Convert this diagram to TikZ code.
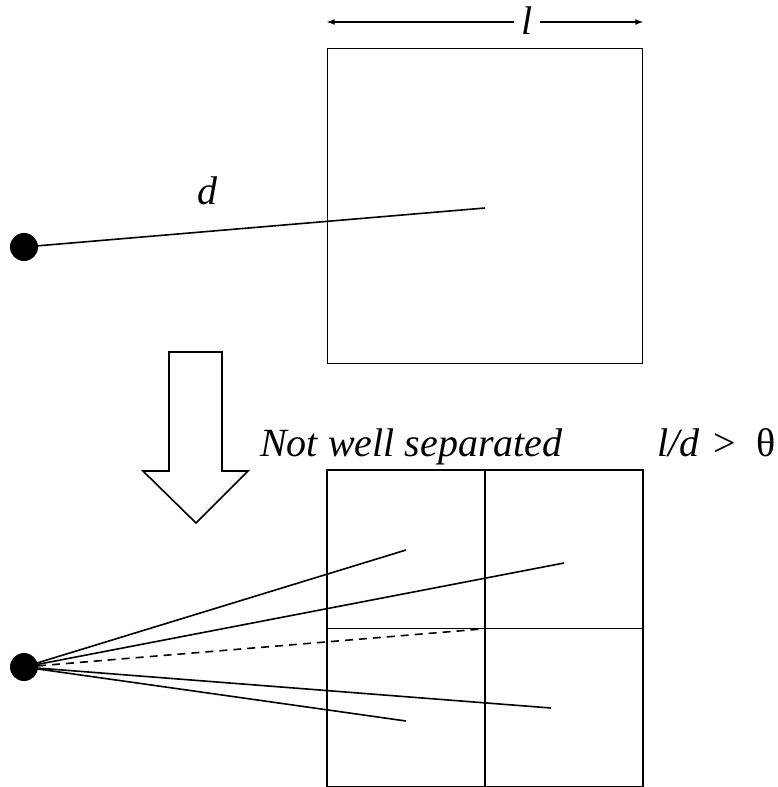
\documentclass[tikz,border=0pt]{standalone}
\usepackage{fontspec}
\setmainfont{Liberation Serif}
\begin{document}
\begin{tikzpicture}[x=1pt,y=-1pt,
  edge/.style={line width=1.6pt},
  box/.style={line width=1.6pt},
  dotnode/.style={circle,fill=black,inner sep=0pt,minimum size=28pt},
  lab/.style={inner sep=0pt,font=\fontsize{40}{44}\selectfont\itshape}]
\useasboundingbox (0,0) rectangle (778,787);
% top square
\node[draw,box,minimum size=315pt,inner sep=0pt] (sq) at (485,206) {};
\coordinate (sqc) at (485,208);
\node[dotnode] (p1) at (24,247) {};
\draw[edge] (p1.center) -- (sqc);
\node[lab,anchor=base west] (d) at (197,204) {d};
% dimension arrow
\coordinate (al) at (327,22);
\coordinate (ar) at (643,22);
\node[lab,anchor=base,fill=white,inner xsep=7pt] (l) at (527,34) {l};
\draw[edge,-latex] (l.west |- al) -- (al);
\draw[edge,-latex] (l.east |- ar) -- (ar);
% hollow arrow
\draw[box,line join=miter] (169,352) -- (222,352) -- (222,471) -- (248,471) -- (196,523) -- (143,471) -- (169,471) -- cycle;
\node[lab,anchor=base west] (nws) at (260,456) {Not well separated};
\node[lab,anchor=base west] (cond) at (657,456) {l/d\kern14pt{\upshape >}\kern21pt{\upshape θ}};
% bottom square
\node[draw,box,minimum width=316pt,minimum height=317pt,inner sep=0pt] (sq2) at (485,628.5) {};
\draw[box] (sq2.north) -- (sq2.south);
\draw[box] (sq2.west) -- (sq2.east);
\node[dotnode] (p2) at (24,667) {};
\coordinate (e1) at (406,550);
\coordinate (e2) at (564,563);
\coordinate (e3) at (482,629);
\coordinate (e4) at (551,708);
\coordinate (e5) at (406,721);
\draw[edge] (p2.center) -- (e1);
\draw[edge] (p2.center) -- (e2);
\draw[edge,dash pattern=on 8pt off 6pt] (p2.center) -- (e3);
\draw[edge] (p2.center) -- (e4);
\draw[edge] (p2.center) -- (e5);
\end{tikzpicture}
\end{document}
